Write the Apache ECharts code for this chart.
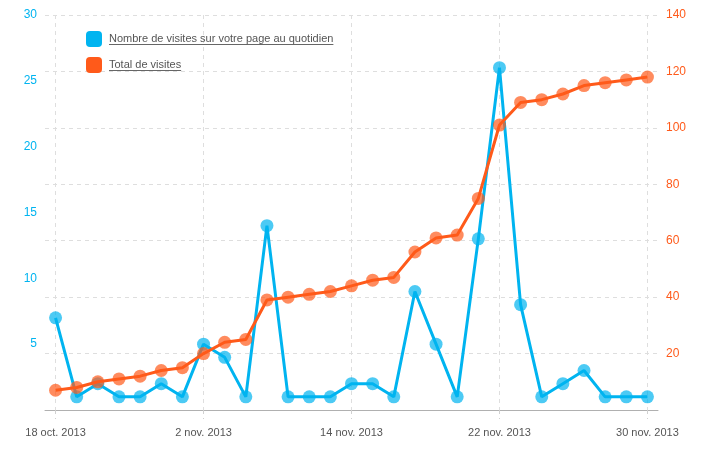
<!DOCTYPE html>
<html><head><meta charset="utf-8">
<script src="https://cdn.jsdelivr.net/npm/echarts@6/dist/echarts.min.js"></script>
<style>html,body{margin:0;padding:0;background:#fff}#c{width:704px;height:450px}</style>
</head><body><div id="c"></div>
<script>
const categories = ['18 oct. 2013','20 oct. 2013','22 oct. 2013','24 oct. 2013','26 oct. 2013','28 oct. 2013','30 oct. 2013',
  '2 nov. 2013','4 nov. 2013','5 nov. 2013','7 nov. 2013','9 nov. 2013','11 nov. 2013','12 nov. 2013',
  '14 nov. 2013','15 nov. 2013','16 nov. 2013','17 nov. 2013','18 nov. 2013','20 nov. 2013','21 nov. 2013',
  '22 nov. 2013','23 nov. 2013','24 nov. 2013','25 nov. 2013','26 nov. 2013','28 nov. 2013','29 nov. 2013','30 nov. 2013'];
const dailyVisits = [7,1,2,1,1,2,1,5,4,1,14,1,1,1,2,2,1,9,5,1,13,26,8,1,2,3,1,1,1];
const totalVisits = [7,8,10,11,12,14,15,20,24,25,39,40,41,42,44,46,47,56,61,62,75,101,109,110,112,115,116,117,118];
const seriesNames = ['Nombre de visites sur votre page au quotidien','Total de visites'];
const leftTicks = {min:0, max:30, interval:5};
const rightTicks = {min:0, max:140, interval:20};

const BLUE = '#00b4f0', ORANGE = '#ff5a1a';
const FONT = '"Liberation Sans", Arial, sans-serif';
const chart = echarts.init(document.getElementById('c'), null, {renderer:'canvas'});

// measure legend text widths for underline decoration
const ctx = document.createElement('canvas').getContext('2d');
ctx.font = '11px ' + FONT;
const w0 = ctx.measureText(seriesNames[0]).width;
const w1 = ctx.measureText(seriesNames[1]).width;

chart.setOption({
  backgroundColor:'#fff',
  animation:false,
  textStyle:{fontFamily:FONT},
  grid:{left:45, right:46, top:15, bottom:40, containLabel:false},
  legend:{
    orient:'vertical', left:86, top:31, padding:0, itemWidth:16, itemHeight:16, itemGap:10,
    icon:'roundRect',
    textStyle:{color:'#555', fontSize:11, fontFamily:FONT, padding:[0,0,0,2]},
    data:[{name:seriesNames[0], itemStyle:{color:BLUE, opacity:1}}, {name:seriesNames[1], itemStyle:{color:ORANGE, opacity:1}}]
  },
  graphic:[
    {type:'line', shape:{x1:109, y1:44.5, x2:109+w0, y2:44.5}, style:{stroke:'#666', lineWidth:1}},
    {type:'line', shape:{x1:109, y1:70.5, x2:109+w1, y2:70.5}, style:{stroke:'#666', lineWidth:1}}
  ],
  xAxis:{
    type:'category', data:categories, boundaryGap:true,
    axisLine:{lineStyle:{color:'#b0b0b0', width:1}},
    axisTick:{show:true, interval:6, alignWithLabel:true, length:9, lineStyle:{color:'#d0d0d0', type:[4,4]}},
    axisLabel:{interval:6, color:'#555', fontSize:11, margin:17, fontFamily:FONT},
    splitLine:{show:true, interval:6, alignWithLabel:true, lineStyle:{color:'#dedede', type:[4,4], width:1}}
  },
  yAxis:[
    {type:'value', position:'left', min:leftTicks.min, max:leftTicks.max, interval:leftTicks.interval,
     axisLine:{show:false}, axisTick:{show:false}, splitLine:{show:false},
     axisLabel:{color:BLUE, fontSize:12, margin:8, showMinLabel:false, fontFamily:FONT}},
    {type:'value', position:'right', min:rightTicks.min, max:rightTicks.max, interval:rightTicks.interval,
     axisLine:{show:false}, axisTick:{show:false},
     splitLine:{show:true, lineStyle:{color:'#dedede', type:[4,4], width:1}},
     axisLabel:{color:ORANGE, fontSize:12, margin:8, showMinLabel:false, fontFamily:FONT}}
  ],
  series:[
    {name:seriesNames[0], type:'line', yAxisIndex:0, data:dailyVisits,
     symbol:'circle', symbolSize:13, showAllSymbol:true,
     lineStyle:{color:BLUE, width:3}, itemStyle:{color:BLUE, opacity:0.7}, z:3},
    {name:seriesNames[1], type:'line', yAxisIndex:1, data:totalVisits,
     symbol:'circle', symbolSize:13, showAllSymbol:true,
     lineStyle:{color:ORANGE, width:3}, itemStyle:{color:ORANGE, opacity:0.7}, z:4}
  ]
});
</script></body></html>
